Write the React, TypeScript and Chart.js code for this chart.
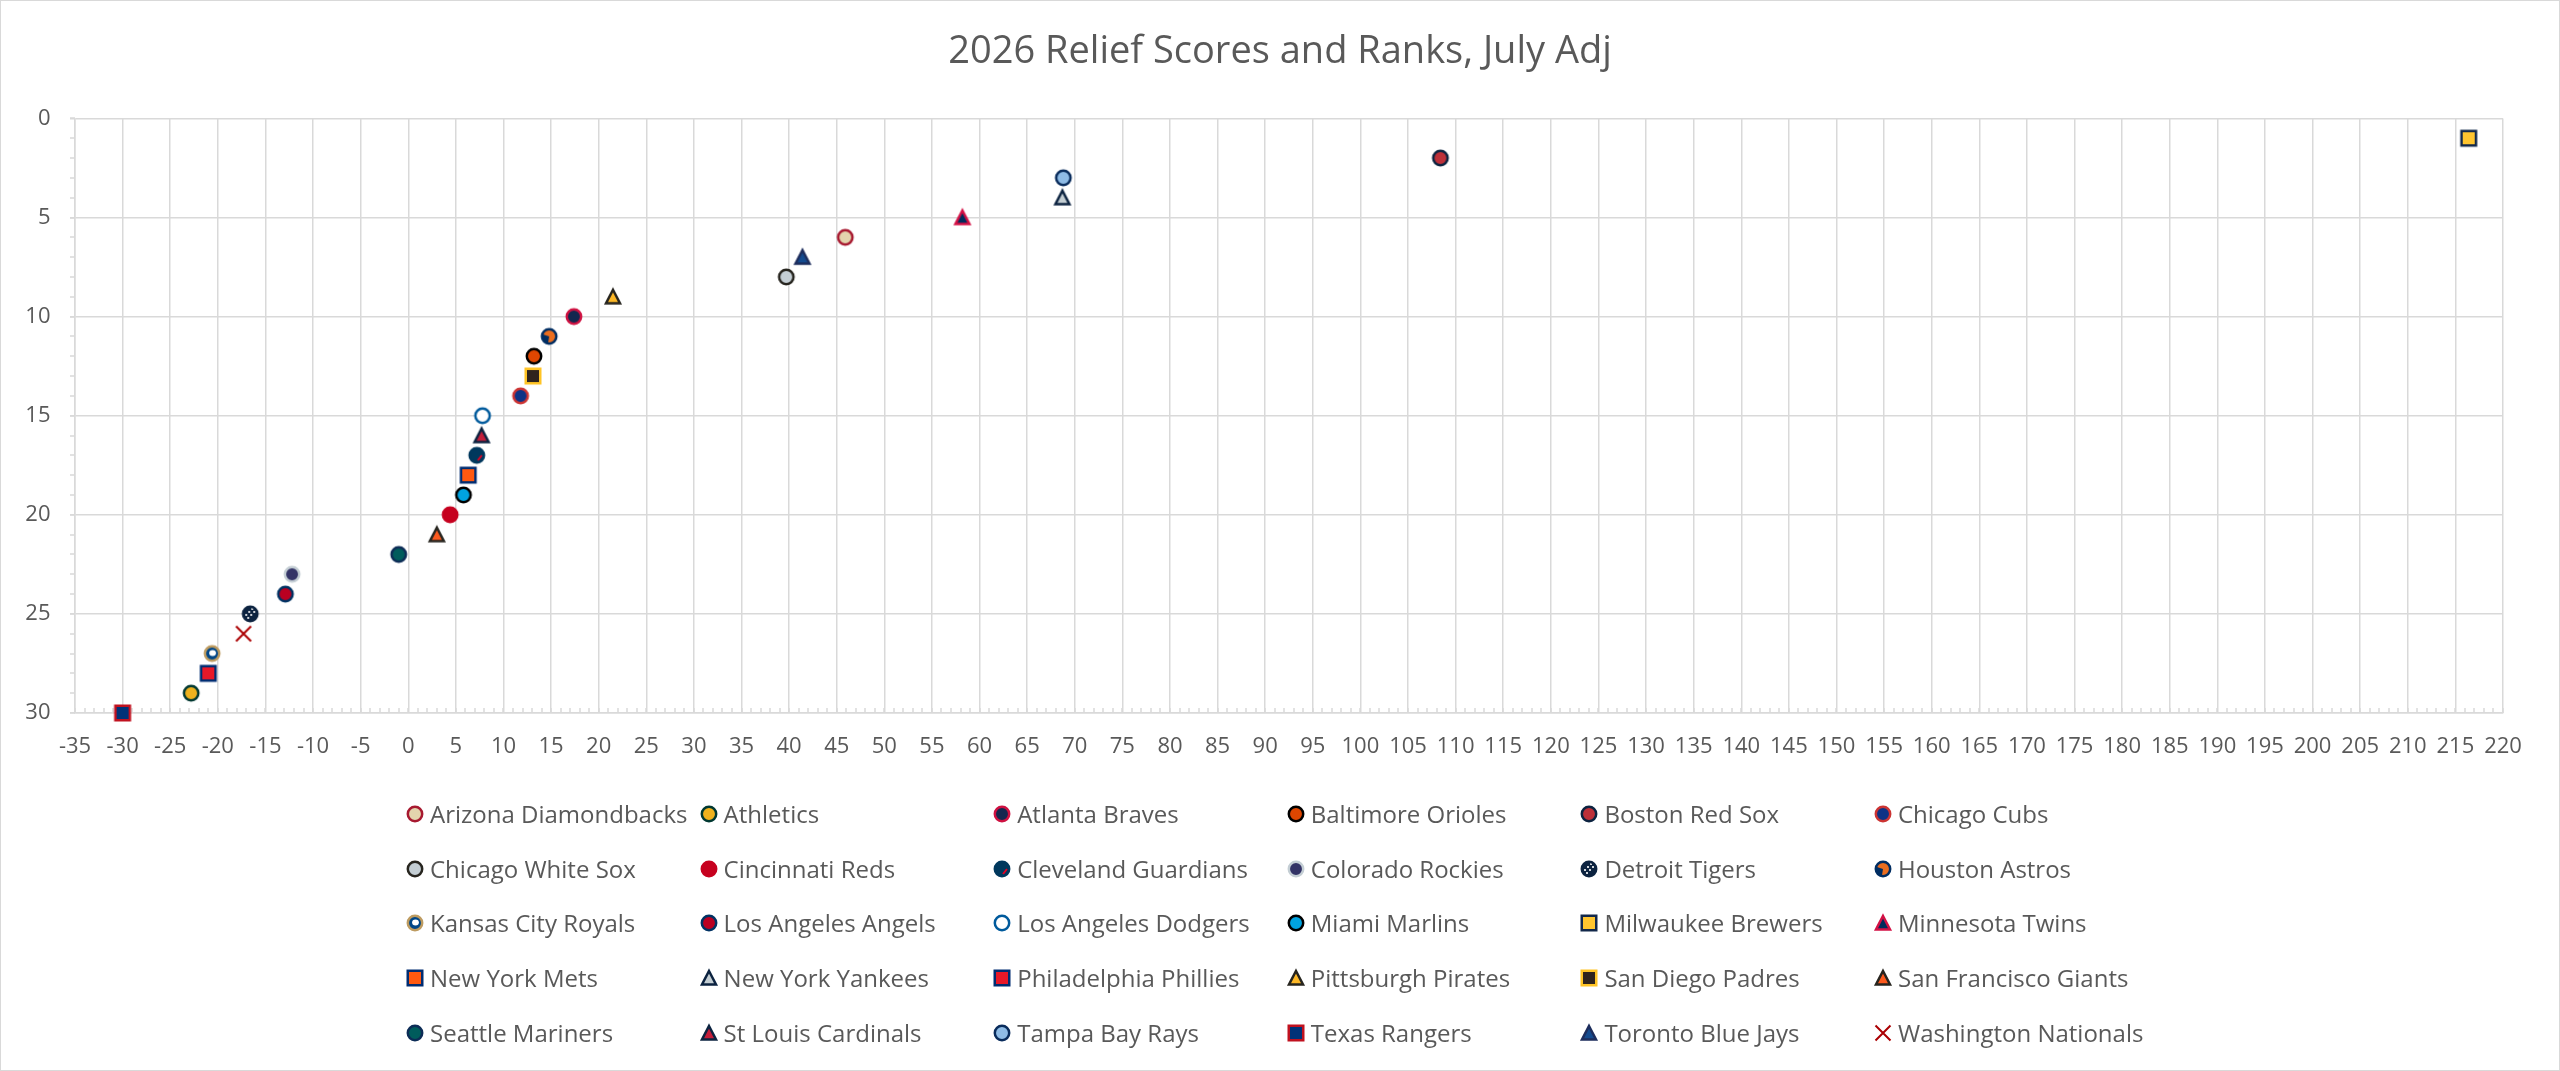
import { useEffect, useRef } from "react";
import { Chart, registerables } from "chart.js";

Chart.register(...registerables);

const TEAMS = [
  "Arizona Diamondbacks", "Athletics", "Atlanta Braves", "Baltimore Orioles", "Boston Red Sox", "Chicago Cubs",
  "Chicago White Sox", "Cincinnati Reds", "Cleveland Guardians", "Colorado Rockies", "Detroit Tigers", "Houston Astros",
  "Kansas City Royals", "Los Angeles Angels", "Los Angeles Dodgers", "Miami Marlins", "Milwaukee Brewers", "Minnesota Twins",
  "New York Mets", "New York Yankees", "Philadelphia Phillies", "Pittsburgh Pirates", "San Diego Padres", "San Francisco Giants",
  "Seattle Mariners", "St Louis Cardinals", "Tampa Bay Rays", "Texas Rangers", "Toronto Blue Jays", "Washington Nationals",
];

const SCORES = [
  45.9, -22.8, 17.4, 13.2, 108.4, 11.8,
  39.7, 4.4, 7.2, -12.2, -16.6, 14.8,
  -20.6, -12.9, 7.8, 5.8, 216.4, 58.2,
  6.3, 68.7, -21.0, 21.5, 13.1, 3.0,
  -1.0, 7.7, 68.8, -30.0, 41.4, -17.3,
];

const RANKS = [
  6, 29, 10, 12, 2, 14,
  8, 20, 17, 23, 25, 11,
  27, 24, 15, 19, 1, 5,
  18, 4, 28, 9, 13, 21,
  22, 16, 3, 30, 7, 26,
];

type Shape = "circle" | "square" | "triangle" | "x";
type Marker = { shape: Shape; fill: string; line: string; deco?: string };

const MARKERS: Record<string, Marker> = {
  "Arizona Diamondbacks": { shape: "circle", fill: "#E3D4AD", line: "#A71930" },
  "Athletics": { shape: "circle", fill: "#EFB21E", line: "#003831" },
  "Atlanta Braves": { shape: "circle", fill: "#13274F", line: "#CE1141" },
  "Baltimore Orioles": { shape: "circle", fill: "#DF4601", line: "#000000" },
  "Boston Red Sox": { shape: "circle", fill: "#BD3039", line: "#0C2340" },
  "Chicago Cubs": { shape: "circle", fill: "#0E3386", line: "#CC3433" },
  "Chicago White Sox": { shape: "circle", fill: "#C4CED4", line: "#27251F" },
  "Cincinnati Reds": { shape: "circle", fill: "#C6011F", line: "#C6011F" },
  "Cleveland Guardians": { shape: "circle", fill: "#00385D", line: "#00385D", deco: "guardians" },
  "Colorado Rockies": { shape: "circle", fill: "#333366", line: "#C4CED4" },
  "Detroit Tigers": { shape: "circle", fill: "#0C2340", line: "#0C2340", deco: "tigers" },
  "Houston Astros": { shape: "circle", fill: "#EB6E1F", line: "#002D62", deco: "astros" },
  "Kansas City Royals": { shape: "circle", fill: "#004687", line: "#BD9B60", deco: "royals" },
  "Los Angeles Angels": { shape: "circle", fill: "#BA0021", line: "#003263" },
  "Los Angeles Dodgers": { shape: "circle", fill: "#FFFFFF", line: "#005A9C" },
  "Miami Marlins": { shape: "circle", fill: "#00A3E0", line: "#000000" },
  "Milwaukee Brewers": { shape: "square", fill: "#FFC52F", line: "#12284B" },
  "Minnesota Twins": { shape: "triangle", fill: "#002B5C", line: "#D31145" },
  "New York Mets": { shape: "square", fill: "#FF5910", line: "#002D72" },
  "New York Yankees": { shape: "triangle", fill: "#C4CED3", line: "#0C2340" },
  "Philadelphia Phillies": { shape: "square", fill: "#E81828", line: "#002D72" },
  "Pittsburgh Pirates": { shape: "triangle", fill: "#FDB827", line: "#27251F" },
  "San Diego Padres": { shape: "square", fill: "#2F241D", line: "#FFC425" },
  "San Francisco Giants": { shape: "triangle", fill: "#FD5A1E", line: "#27251F" },
  "Seattle Mariners": { shape: "circle", fill: "#005C5C", line: "#0C2C56" },
  "St Louis Cardinals": { shape: "triangle", fill: "#C41E3A", line: "#0C2340" },
  "Tampa Bay Rays": { shape: "circle", fill: "#8FBCE6", line: "#092C5C" },
  "Texas Rangers": { shape: "square", fill: "#003278", line: "#C0111F" },
  "Toronto Blue Jays": { shape: "triangle", fill: "#134A8E", line: "#1D2D5C" },
  "Washington Nationals": { shape: "x", fill: "#AB0003", line: "#AB0003" },
};

const TEXT = "#595959";
const GRID = "#D9D9D9";
const FONT = "'Open Sans', sans-serif";

function tracePath(ctx: CanvasRenderingContext2D, shape: Shape, cx: number, cy: number) {
  ctx.beginPath();
  if (shape === "circle") {
    ctx.arc(cx, cy, 7.2, 0, Math.PI * 2);
  } else if (shape === "square") {
    ctx.rect(cx - 7.25, cy - 7.25, 14.5, 14.5);
  } else {
    ctx.moveTo(cx, cy - 7);
    ctx.lineTo(cx + 7, cy + 6.5);
    ctx.lineTo(cx - 7, cy + 6.5);
    ctx.closePath();
  }
}

function drawDeco(ctx: CanvasRenderingContext2D, deco: string, cx: number, cy: number) {
  if (deco === "tigers") {
    ctx.fillStyle = "#FFFFFF";
    const dots = [[-4, 1], [-1, -2], [2, -5], [-2, 4], [1, 1], [4, -2]];
    for (const [dx, dy] of dots) {
      ctx.beginPath();
      ctx.arc(cx + dx, cy + dy, 1.1, 0, Math.PI * 2);
      ctx.fill();
    }
  } else if (deco === "guardians") {
    ctx.strokeStyle = "#E50022";
    ctx.lineWidth = 2;
    ctx.beginPath();
    ctx.moveTo(cx + 1, cy + 5);
    ctx.lineTo(cx + 5, cy);
    ctx.stroke();
  } else if (deco === "astros") {
    ctx.fillStyle = "#002D62";
    ctx.beginPath();
    ctx.moveTo(cx, cy);
    ctx.arc(cx, cy, 8, Math.PI * 0.55, Math.PI * 1.1);
    ctx.closePath();
    ctx.fill();
  } else if (deco === "royals") {
    ctx.fillStyle = "#FFFFFF";
    ctx.beginPath();
    ctx.ellipse(cx + 0.5, cy - 0.5, 3.4, 3, 0, 0, Math.PI * 2);
    ctx.fill();
  }
}

function drawMarker(ctx: CanvasRenderingContext2D, m: Marker, cx: number, cy: number) {
  ctx.save();
  if (m.shape === "x") {
    const d = 7.5;
    ctx.strokeStyle = m.line;
    ctx.lineWidth = 2;
    ctx.beginPath();
    ctx.moveTo(cx - d, cy - d);
    ctx.lineTo(cx + d, cy + d);
    ctx.moveTo(cx + d, cy - d);
    ctx.lineTo(cx - d, cy + d);
    ctx.stroke();
    ctx.restore();
    return;
  }
  tracePath(ctx, m.shape, cx, cy);
  ctx.fillStyle = m.fill;
  ctx.fill();
  if (m.deco) {
    ctx.save();
    ctx.clip();
    drawDeco(ctx, m.deco, cx, cy);
    ctx.restore();
  }
  tracePath(ctx, m.shape, cx, cy);
  ctx.lineJoin = "miter";
  ctx.lineWidth = 2.5;
  ctx.strokeStyle = m.line;
  ctx.stroke();
  ctx.restore();
}

function markerImage(m: Marker) {
  const c = document.createElement("canvas");
  c.width = 24;
  c.height = 24;
  const ctx = c.getContext("2d");
  if (ctx) drawMarker(ctx, m, 12, 12);
  return c;
}

// small tick marks between the major gridlines, like Excel's minor ticks
const minorTicks = {
  id: "minorTicks",
  beforeDatasetsDraw(chart: Chart) {
    const { ctx, chartArea } = chart;
    const x = chart.scales.x;
    const y = chart.scales.y;
    ctx.save();
    ctx.strokeStyle = GRID;
    ctx.lineWidth = 1.5;
    ctx.beginPath();
    for (let v = x.min; v <= x.max; v += 1) {
      const px = Math.round(x.getPixelForValue(v));
      ctx.moveTo(px, chartArea.bottom);
      ctx.lineTo(px, chartArea.bottom - 5);
    }
    for (let v = y.min; v <= y.max; v += 1) {
      const py = Math.round(y.getPixelForValue(v));
      ctx.moveTo(chartArea.left - 5, py);
      ctx.lineTo(chartArea.left, py);
    }
    ctx.stroke();
    ctx.restore();
  },
};

function Swatch({ marker }: { marker: Marker }) {
  const ref = useRef<HTMLCanvasElement>(null);
  useEffect(() => {
    const ctx = ref.current?.getContext("2d");
    if (!ctx) return;
    ctx.clearRect(0, 0, 24, 24);
    drawMarker(ctx, marker, 12, 12);
  }, [marker]);
  return <canvas ref={ref} width={24} height={24} style={{ width: 24, height: 24, flexShrink: 0 }} />;
}

export default function App() {
  const chartRef = useRef<HTMLCanvasElement>(null);
  const chartInstance = useRef<Chart | null>(null);

  useEffect(() => {
    if (!chartRef.current) return;
    if (chartInstance.current) chartInstance.current.destroy();

    chartInstance.current = new Chart(chartRef.current, {
      type: "scatter",
      data: {
        datasets: TEAMS.map((team, i) => ({
          label: team,
          data: [{ x: SCORES[i], y: RANKS[i] }],
          pointStyle: markerImage(MARKERS[team]),
          pointRadius: 9,
          pointHoverRadius: 9,
          clip: false as any,
        })),
      },
      options: {
        animation: false,
        responsive: true,
        maintainAspectRatio: false,
        layout: { padding: 0 },
        plugins: {
          legend: { display: false },
          tooltip: { enabled: false },
          title: {
            display: true,
            text: "2026 Relief Scores and Ranks, July Adj",
            color: TEXT,
            font: { family: FONT, size: 38, weight: "normal" },
            padding: { top: 28.8, bottom: 43 },
          },
        },
        scales: {
          x: {
            type: "linear",
            min: -35,
            max: 220,
            afterFit: (s: any) => {
              s.height = 78;
              s.paddingRight = 56;
            },
            ticks: {
              stepSize: 5,
              autoSkip: false,
              maxRotation: 0,
              padding: 20.5,
              color: TEXT,
              font: { family: FONT, size: 22 },
            },
            grid: { color: GRID, lineWidth: 1.5, drawTicks: false },
            border: { color: GRID, width: 1.5 },
          },
          y: {
            type: "linear",
            reverse: true,
            min: 0,
            max: 30,
            afterFit: (s: any) => {
              s.width = 74;
            },
            ticks: {
              stepSize: 5,
              padding: 19.5,
              color: TEXT,
              font: { family: FONT, size: 22 },
            },
            grid: { color: GRID, lineWidth: 1.5, tickLength: 5, drawTicks: true },
            border: { color: GRID, width: 1.5 },
          },
        },
      },
      plugins: [minorTicks],
    });

    return () => chartInstance.current?.destroy();
  }, []);

  return (
    <div
      style={{
        position: "relative",
        width: 2560,
        height: 1071,
        boxSizing: "border-box",
        border: `1px solid ${GRID}`,
        background: "#FFFFFF",
        fontFamily: FONT,
        overflow: "hidden",
      }}
    >
      <style>{`body { margin: 0; }`}</style>
      <div style={{ position: "absolute", left: 0, top: 0, width: 2558, height: 790 }}>
        <canvas ref={chartRef} />
      </div>
      {/* Legend, laid out on Excel's fixed column grid */}
      <div
        style={{
          position: "absolute",
          left: 402,
          top: 785.6,
          display: "grid",
          gridTemplateColumns: "repeat(6, 293.6px)",
          gridAutoRows: "54.7px",
        }}
      >
        {TEAMS.map((team) => (
          <div key={team} style={{ display: "flex", alignItems: "center", whiteSpace: "nowrap" }}>
            <Swatch marker={MARKERS[team]} />
            <span style={{ marginLeft: 3, fontSize: 24, color: TEXT, lineHeight: 1 }}>{team}</span>
          </div>
        ))}
      </div>
    </div>
  );
}
